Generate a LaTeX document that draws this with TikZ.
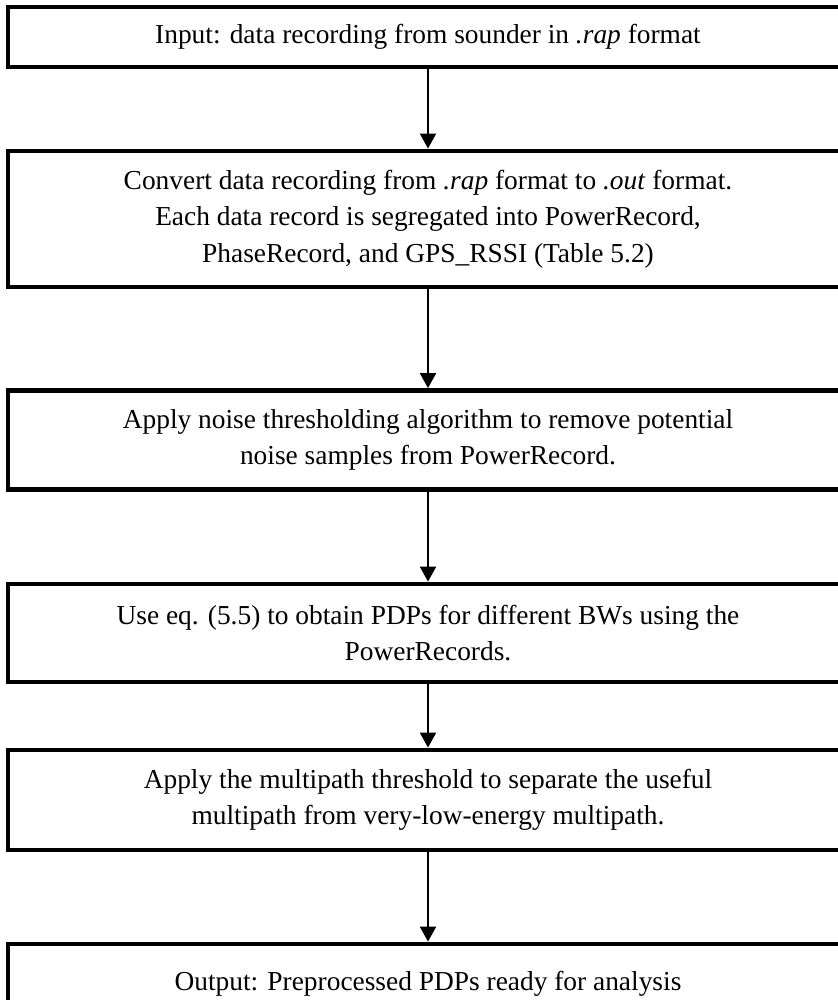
\documentclass[tikz,border=0pt]{standalone}
\usepackage{fontspec}
\setmainfont{Liberation Serif}
\usetikzlibrary{arrows.meta}

\tikzset{
  stepbox/.style={draw, line width=2.4pt, minimum width=420pt, align=center,
    inner sep=0pt, font=\fontsize{13.7}{18.3}\selectfont},
  flow/.style={-{Triangle[width=8pt,length=7.5pt]}, line width=1pt}
}

\begin{document}
\begin{tikzpicture}[x=0.5pt,y=-0.5pt]
\useasboundingbox (0,0) rectangle (838,1000);

% steps
\node[stepbox, minimum height=30pt] (input) at (428,37) {Input: data recording from sounder in \textit{.rap} format};
\node[stepbox, minimum height=68pt] (convert) at (428,219) {Convert data recording from \textit{.rap} format to \textit{.out} format.\\ Each data record is segregated into PowerRecord,\\ PhaseRecord, and GPS\_RSSI (Table 5.2)};
\node[stepbox, minimum height=49.5pt] (noise) at (428,440) {Apply noise thresholding algorithm to remove potential\\ noise samples from PowerRecord.};
\node[stepbox, minimum height=49pt] (pdp) at (428,633) {Use eq. (5.5) to obtain PDPs for different BWs using the\\ PowerRecords.};
\node[stepbox, minimum height=50pt] (multipath) at (428,800) {Apply the multipath threshold to separate the useful\\ multipath from very-low-energy multipath.};
\node[stepbox, minimum height=40pt] (output) at (428,984) {Output: Preprocessed PDPs ready for analysis};

% arrows
\draw[flow] (input) -- (convert);
\draw[flow] (convert) -- (noise);
\draw[flow] (noise) -- (pdp);
\draw[flow] (pdp) -- (multipath);
\draw[flow] (multipath) -- (output);
\end{tikzpicture}
\end{document}
